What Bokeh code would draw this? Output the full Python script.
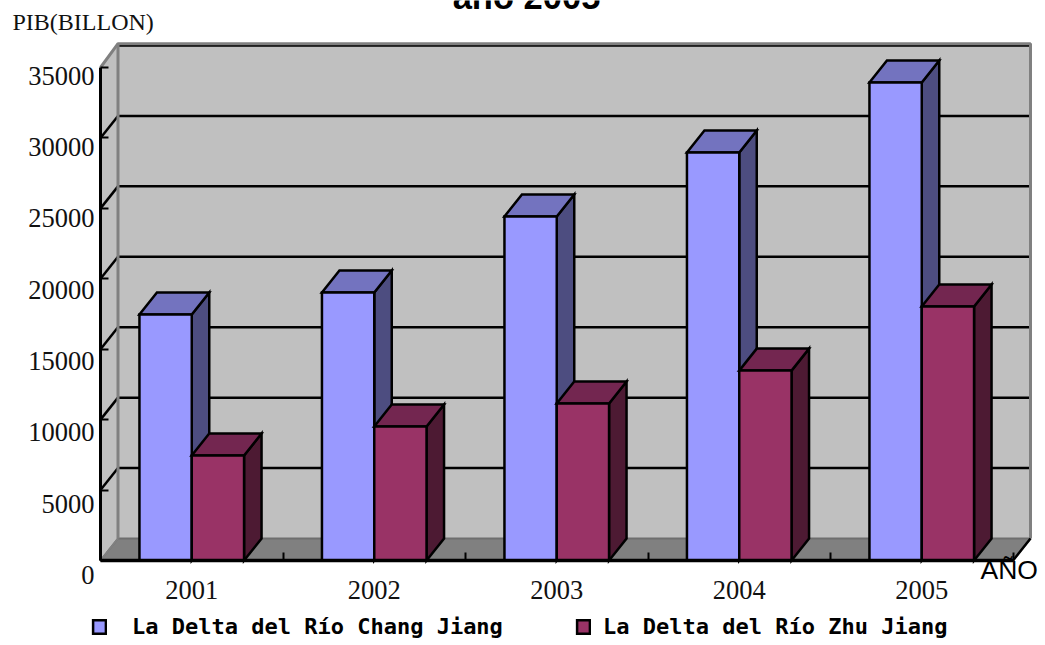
from bokeh.embed import file_html
from bokeh.resources import INLINE
from bokeh.plotting import figure
from bokeh.models import Range1d, FixedTicker, Label, Legend, LegendItem, ColumnDataSource, LinearAxis

years = ["2001", "2002", "2003", "2004", "2005"]
series_names = ["La Delta del Río Chang Jiang", "La Delta del Río Zhu Jiang"]
chang_jiang = [17460, 19020, 24420, 28960, 33930]
zhu_jiang = [7450, 9510, 11140, 13480, 18030]
y_ticks = [0, 5000, 10000, 15000, 20000, 25000, 30000, 35000]
title_text = "año 2005"
y_title = "PIB(BILLON)"
x_title = "AÑO"

PX_CAT = 182.5
PX_VAL = 0.014086
LABEL_PX_VAL = 0.014267
DX = 17.5 / PX_CAT
DY = 22 / PX_VAL
BAR_W = 52.3 / PX_CAT
N = len(years)
YMAX = y_ticks[-1]

p = figure(width=1045, height=645, output_backend="svg", toolbar_location=None,
           x_range=Range1d(-100 / PX_CAT, 945 / PX_CAT), y_range=Range1d(-85 / PX_VAL, 560 / PX_VAL),
           min_border=0,
           outline_line_color=None, background_fill_color=None, border_fill_color="white")
p.margin = (0, 0, 0, 0)
p.grid.visible = False
p.extra_y_ranges = {"labels": Range1d(-70.4 / LABEL_PX_VAL, 574.6 / LABEL_PX_VAL)}

GRAY = "#808080"
WALL = "#C0C0C0"
# walls and floor
p.patch([DX, N + DX, N + DX, DX], [DY, DY, YMAX + DY, YMAX + DY], fill_color=WALL, line_color=None)
p.patch([0, DX, DX, 0], [0, DY, YMAX + DY, YMAX], fill_color=WALL, line_color=None)
p.patch([0, N, N + DX, DX], [0, 0, DY, DY], fill_color=GRAY, line_color="#6e6e6e", line_width=2)

# gridlines
inner = y_ticks[1:]
p.segment([DX] * len(inner), [v + DY for v in inner], [N + DX] * len(inner), [v + DY for v in inner],
          line_color="black", line_width=2.5)
diag = y_ticks[1:-1]
p.segment([0] * len(diag), diag, [DX] * len(diag), [v + DY for v in diag], line_color="black", line_width=2.5)
# wall edges
PAD = 130
p.line([0, DX, N + DX, N + DX], [YMAX, YMAX + DY + PAD, YMAX + DY + PAD, DY], line_color=GRAY, line_width=3)
p.line([DX, DX], [DY, YMAX + DY + PAD], line_color=GRAY, line_width=3)
p.line([0, DX], [0, DY], line_color=GRAY, line_width=2)
p.line([N, N + DX], [0, DY], line_color="black", line_width=2.5)


def shade(values, offset, front, top, side):
    lefts = [i + 0.5 + offset for i in range(N)]
    rights = [x + BAR_W for x in lefts]
    src = ColumnDataSource(dict(x=[(a + b) / 2 for a, b in zip(lefts, rights)], top=values))
    p.patches([[r, r + DX, r + DX, r] for r in rights],
              [[0, DY, v + DY, v] for v in values],
              fill_color=side, line_color="black", line_width=2.5, line_join="miter")
    p.patches([[l, r, r + DX, l + DX] for l, r in zip(lefts, rights)],
              [[v, v, v + DY, v + DY] for v in values],
              fill_color=top, line_color="black", line_width=2.5, line_join="miter")
    return p.vbar(x="x", top="top", bottom=0, width=BAR_W, source=src,
                  fill_color=front, line_color="black", line_width=2.5, line_join="miter")


r1 = shade(chang_jiang, -BAR_W, "#9999FF", "#7373BF", "#4D4D80")
r2 = shade(zhu_jiang, 0, "#993366", "#732650", "#4D1A33")

# axes
xa = p.xaxis[0]
xa.fixed_location = 0
xa.ticker = FixedTicker(ticks=[i + 0.5 for i in range(N)], minor_ticks=list(range(N + 1)))
xa.major_label_overrides = {i + 0.5: y for i, y in enumerate(years)}
xa.bounds = (0, N)
xa.major_tick_line_color = None
xa.minor_tick_in = 8
xa.minor_tick_out = 0
xa.minor_tick_line_width = 2
xa.minor_tick_line_color = "black"
xa.axis_line_width = 3.5
xa.major_label_standoff = 14
xa.major_label_text_font = "Liberation Serif"
xa.major_label_text_font_size = "26.5px"
xa.major_label_text_color = "#111111"

ya = p.yaxis[0]
ya.fixed_location = 0
ya.ticker = FixedTicker(ticks=y_ticks)
ya.bounds = (0, YMAX)
ya.major_label_overrides = {v: "" for v in y_ticks}
ya.major_tick_in = 8
ya.major_tick_out = 0
ya.major_tick_line_width = 2
ya.axis_line_width = 3
ya.minor_tick_line_color = None

# value labels sit a little lower than their ticks in the reference, so they get their own axis
la = LinearAxis(y_range_name="labels", fixed_location=0, ticker=FixedTicker(ticks=y_ticks),
                major_label_overrides={v: str(v) for v in y_ticks},
                axis_line_color=None, major_tick_line_color=None, minor_tick_line_color=None,
                major_label_standoff=0, major_label_text_font="Liberation Serif",
                major_label_text_font_size="26.5px", major_label_text_color="#111111")
p.add_layout(la, "left")


def px_x(page_x):
    return (page_x - 100) / PX_CAT


def px_y(page_y):
    return (560 - page_y) / PX_VAL


p.add_layout(Label(x=px_x(526), y=px_y(-4), text=title_text, text_font="Liberation Sans", text_font_style="bold",
                   text_font_size="34.5px", text_align="center", text_baseline="alphabetic", text_color="black"))
p.add_layout(Label(x=px_x(12), y=px_y(21), text=y_title, text_font="Liberation Serif", text_font_size="24px",
                   text_baseline="alphabetic", text_color="#111111"))
p.add_layout(Label(x=px_x(980), y=px_y(569), text=x_title, text_font="Liberation Sans", text_font_size="26.5px",
                   text_baseline="alphabetic", text_color="black"))

for renderer, name, loc, standoff in [(r1, series_names[0], (91, 6), 25), (r2, series_names[1], (575, 6), 12)]:
    leg = Legend(items=[LegendItem(label=name, renderers=[renderer])], location=loc, padding=0, margin=0,
                 glyph_width=16, glyph_height=17, label_standoff=standoff, label_height=17,
                 background_fill_alpha=0, border_line_color=None,
                 label_text_font="DejaVu Sans Mono", label_text_font_size="22px", label_text_color="black",
                 label_text_font_style="bold")
    p.add_layout(leg, "center")

open("out.html", "w").write(file_html(p, INLINE))
